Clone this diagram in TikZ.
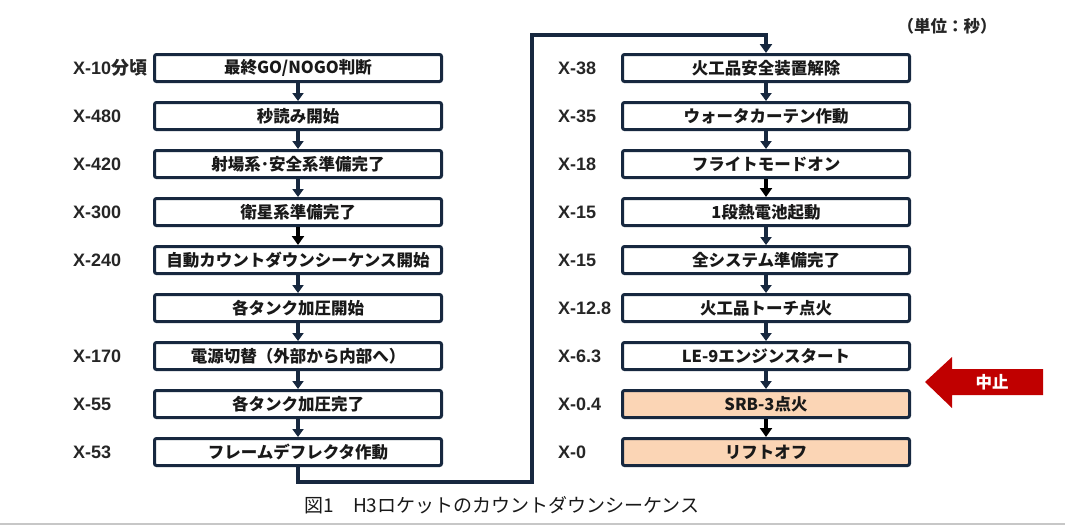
\documentclass[tikz,border=0pt]{standalone}
\usepackage{fontspec}
\setmainfont{Liberation Sans}
\newfontfamily\jp{Noto Sans CJK JP}
\usetikzlibrary{arrows.meta}
\definecolor{navy}{HTML}{17283F}
\definecolor{peach}{HTML}{FBD5B5}
\definecolor{stopred}{HTML}{C00000}
\newcommand{\ja}[1]{{\jp #1}}

\begin{document}
\begin{tikzpicture}[x=1pt, y=-1pt,
  stage/.style={draw=navy, fill=white, line width=3pt, rounded corners=2pt,
                minimum width=287pt, minimum height=27pt, inner sep=0pt,
                font=\jp\bfseries\fontsize{16.5}{19}\selectfont, text=black!90},
  lbl/.style={anchor=west, inner sep=0pt,
              font=\bfseries\fontsize{18}{21}\selectfont, text=black!85},
  nxt/.style={navy, line width=3.2pt, -{Triangle[width=11pt,length=8pt]}},
  nxtb/.style={black, line width=4pt, -{Triangle[width=12pt,length=9pt]}},
  link/.style={navy, line width=4pt, -{Triangle[width=12pt,length=9pt]}}
]
\useasboundingbox (0,0) rectangle (1065,528);
% Left column
\node[stage] (go)      at (298,68)  {最終GO/NOGO判断};
\node[stage] (count)   at (298,116) {秒読み開始};
\node[stage] (range)   at (298,164) {射場系･安全系準備完了};
\node[stage] (sat)     at (298,212) {衛星系準備完了};
\node[stage] (auto)    at (298,260) {自動カウントダウンシーケンス開始};
\node[stage] (press)   at (298,308) {各タンク加圧開始};
\node[stage] (power)   at (298,356) {電源切替（外部から内部へ）};
\node[stage] (pressok) at (298,404) {各タンク加圧完了};
\node[stage] (defl)    at (298,452) {フレームデフレクタ作動};
% Right column
\node[stage] (pyro)   at (766,68)  {火工品安全装置解除};
\node[stage] (water)  at (766,116) {ウォータカーテン作動};
\node[stage] (flight) at (766,164) {フライトモードオン};
\node[stage] (batt)   at (766,212) {1段熱電池起動};
\node[stage] (sys)    at (766,260) {全システム準備完了};
\node[stage] (torch)  at (766,308) {火工品トーチ点火};
\node[stage] (le9)    at (766,356) {LE-9エンジンスタート};
\node[stage, fill=peach] (srb)  at (766,404) {SRB-3点火};
\node[stage, fill=peach] (lift) at (766,452) {リフトオフ};
% Times
\node[lbl] (tgo)      at (73,68)  {X-10\ja{分頃}};
\node[lbl] (tcount)   at (73,116) {X-480};
\node[lbl] (trange)   at (73,164) {X-420};
\node[lbl] (tsat)     at (73,212) {X-300};
\node[lbl] (tauto)    at (73,260) {X-240};
\node[lbl] (tpower)   at (73,356) {X-170};
\node[lbl] (tpressok) at (73,404) {X-55};
\node[lbl] (tdefl)    at (73,452) {X-53};
\node[lbl] (tpyro)    at (558,68)  {X-38};
\node[lbl] (twater)   at (558,116) {X-35};
\node[lbl] (tflight)  at (558,164) {X-18};
\node[lbl] (tbatt)    at (558,212) {X-15};
\node[lbl] (tsys)     at (558,260) {X-15};
\node[lbl] (ttorch)   at (558,308) {X-12.8};
\node[lbl] (tle9)     at (558,356) {X-6.3};
\node[lbl] (tsrb)     at (558,404) {X-0.4};
\node[lbl] (tlift)    at (558,452) {X-0};
\node[font=\jp\bfseries\fontsize{16.5}{19}\selectfont, text=black!85]
  (unit) at (947,26) {（単位：秒）};
% Arrows
\draw[nxt]  (go) -- (count);
\draw[nxt]  (count) -- (range);
\draw[nxt]  (range) -- (sat);
\draw[nxtb] (sat) -- (auto);
\draw[nxt]  (auto) -- (press);
\draw[nxt]  (press) -- (power);
\draw[nxt]  (power) -- (pressok);
\draw[nxt]  (pressok) -- (defl);
\draw[nxt]  (pyro) -- (water);
\draw[nxt]  (water) -- (flight);
\draw[nxtb] (flight) -- (batt);
\draw[nxt]  (batt) -- (sys);
\draw[nxt]  (sys) -- (torch);
\draw[nxt]  (torch) -- (le9);
\draw[nxt]  (le9) -- (srb);
\draw[nxtb] (srb) -- (lift);
% Column change
\coordinate (c1) at (532,482);
\coordinate (c2) at (532,35);
\draw[link] (defl.south) |- (c1) -- (c2) -| (pyro.north);
% Hold marker
\fill[stopred] (925,382) -- (952,357) -- (952,369) -- (1043,369)
  -- (1043,395) -- (952,395) -- (952,408) -- cycle;
\node[font=\jp\bfseries\fontsize{16.5}{19}\selectfont, text=white]
  (stop) at (992,382) {中止};
% Caption
\node[font=\jp\fontsize{19}{22}\selectfont, text=black!90]
  (cap) at (502,505) {図1　H3ロケットのカウントダウンシーケンス};
\draw[black!22, line width=2pt] (0,524) -- (1065,524);
\end{tikzpicture}
\end{document}
